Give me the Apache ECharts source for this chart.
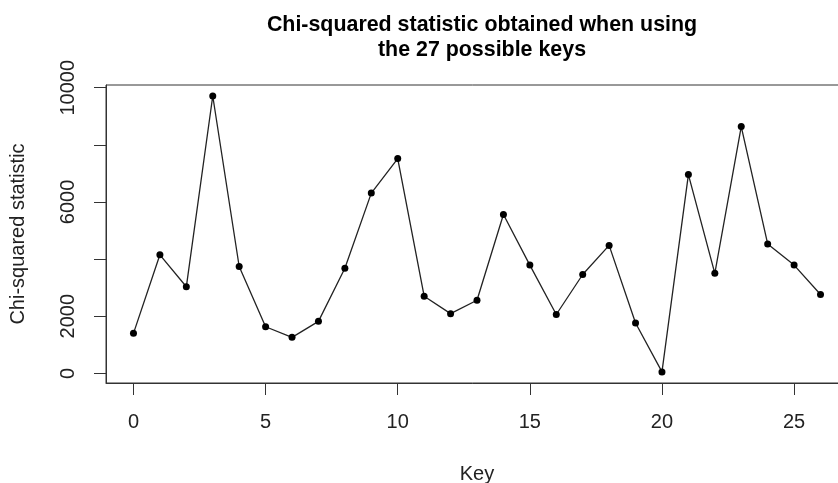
<!DOCTYPE html>
<html>
<head>
<meta charset="utf-8">
<script src="https://cdn.jsdelivr.net/npm/echarts@6/dist/echarts.min.js"></script>
<style>
html,body{margin:0;padding:0;background:#fff;}
#chart{width:838px;height:483px;}
</style>
</head>
<body>
<div id="chart"></div>
<script>
var keys = [0,1,2,3,4,5,6,7,8,9,10,11,12,13,14,15,16,17,18,19,20,21,22,23,24,25,26];
var chiSquared = [1400,4150,3030,9710,3740,1630,1260,1820,3680,6310,7520,2700,2090,2560,5560,3790,2060,3460,4480,1760,50,6960,3500,8640,4530,3790,2760];
var xTicks = [0,5,10,15,20,25];
var yTicks = [0,2000,4000,6000,8000,10000];
var yLabels = [0,2000,6000,10000];

var font = "'Liberation Sans', Arial, sans-serif";
var txt = '#222';
var chart = echarts.init(document.getElementById('chart'), null, {renderer:'canvas'});
var pts = keys.map(function(k,i){ return [k, chiSquared[i]]; });

chart.setOption({
  animation:false,
  backgroundColor:'#fff',
  title:{
    text:'Chi-squared statistic obtained when using\nthe 27 possible keys',
    left:477, top:8, textAlign:'center',
    textStyle:{fontFamily:font, fontSize:21.4, fontWeight:'bold', color:'#000', lineHeight:25}
  },
  grid:{left:106, top:85, width:742, height:298, show:true, borderColor:'#333', borderWidth:1,
    containLabel:false, outerBoundsMode:'none'},
  xAxis:{
    type:'value', min:-1.04, max:27.04,
    name:'Key', nameLocation:'middle', nameGap:81,
    nameTextStyle:{fontFamily:font, fontSize:20, color:txt},
    axisLine:{show:true, onZero:false, lineStyle:{color:'#333', width:1}},
    axisTick:{show:true, customValues:xTicks, length:12, lineStyle:{color:'#333', width:1}},
    axisLabel:{customValues:xTicks, margin:29, fontFamily:font, fontSize:20, color:txt,
      formatter:function(v){ return String(v); }},
    splitLine:{show:false}
  },
  yAxis:{
    type:'value', min:-339, max:10096,
    name:'Chi-squared statistic', nameLocation:'middle', nameGap:78,
    nameTextStyle:{fontFamily:font, fontSize:20, color:txt},
    axisLine:{show:true, onZero:false, lineStyle:{color:'#333', width:1}},
    axisTick:{show:true, customValues:yTicks, length:12, lineStyle:{color:'#333', width:1}},
    axisLabel:{customValues:yLabels, rotate:90, margin:28, fontFamily:font, fontSize:20, color:txt,
      formatter:function(v){ return String(v); }},
    splitLine:{show:false}
  },
  series:[{
    type:'line', data:pts,
    symbol:'circle', symbolSize:7,
    itemStyle:{color:'#000'},
    lineStyle:{color:'#222', width:1.3},
    clip:false
  }]
});
</script>
</body>
</html>
